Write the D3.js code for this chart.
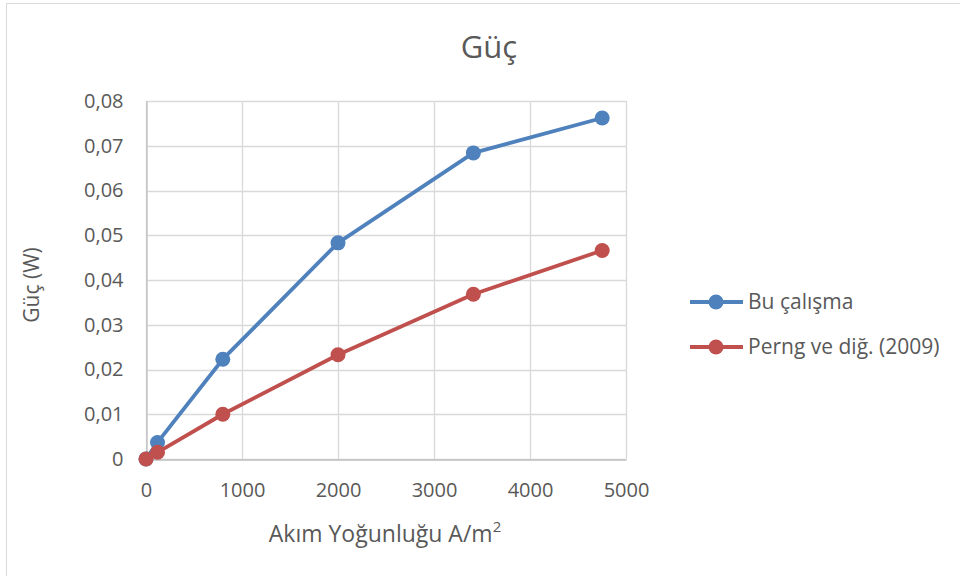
<!DOCTYPE html>
<html>
<head>
<meta charset="utf-8">
<script src="https://cdn.jsdelivr.net/npm/d3@7"></script>
<style>
  html, body { margin: 0; padding: 0; background: #fff; }
  svg { display: block; }
  text { font-family: "Open Sans", "Noto Sans", sans-serif; fill: #595959; }
</style>
</head>
<body>
<script>
// Current density (A/m²) and power (W) for the two data sets
const currentDensity = [0, 120, 800, 2000, 3410, 4752];
const powerThisWork = [0, 0.0037, 0.0223, 0.0483, 0.0684, 0.0762];
const powerPerng = [0, 0.0015, 0.0100, 0.0233, 0.0368, 0.0466];
const seriesNames = ["Bu çalışma", "Perng ve diğ. (2009)"];
const seriesColors = ["#4f81bd", "#c0504d"];
const xTicks = [0, 1000, 2000, 3000, 4000, 5000];
const yTicks = [0, 0.01, 0.02, 0.03, 0.04, 0.05, 0.06, 0.07, 0.08];

const W = 960, H = 576;
const svg = d3.select("body").append("svg").attr("width", W).attr("height", H);

// Chart frame
svg.append("rect").attr("x", 6.5).attr("y", 3.5).attr("width", 1000).attr("height", 700)
  .attr("fill", "none").attr("stroke", "#d9d9d9").attr("stroke-width", 1);

const plot = { left: 146, right: 626, top: 101, bottom: 459 };
const x = d3.scaleLinear().domain([0, 5000]).range([plot.left, plot.right]);
const y = d3.scaleLinear().domain([0, 0.08]).range([plot.bottom, plot.top]);

// Gridlines
const grid = svg.append("g");
grid.selectAll("line.h").data(yTicks).join("line")
  .attr("x1", plot.left).attr("x2", plot.right)
  .attr("y1", d => Math.round(y(d)) + 0.5).attr("y2", d => Math.round(y(d)) + 0.5)
  .attr("stroke", "#d9d9d9").attr("stroke-width", 1.3);
grid.selectAll("line.v").data(xTicks).join("line")
  .attr("y1", plot.top).attr("y2", plot.bottom)
  .attr("x1", d => Math.round(x(d)) + 0.5).attr("x2", d => Math.round(x(d)) + 0.5)
  .attr("stroke", "#d9d9d9").attr("stroke-width", 1.3);

// Axes
const fmt = d => d === 0 ? "0" : d.toFixed(2).replace(".", ",");
const yAxis = svg.append("g").attr("transform", `translate(${plot.left + 0.5},0)`)
  .call(d3.axisLeft(y).tickValues(yTicks).tickFormat(fmt).tickSize(0).tickPadding(23));
yAxis.select(".domain").attr("stroke", "#bfbfbf").attr("stroke-width", 1.3);
yAxis.selectAll("text").style("font-size", "20px").attr("fill", "#595959");

const xAxis = svg.append("g").attr("transform", `translate(0,${plot.bottom + 0.5})`)
  .call(d3.axisBottom(x).tickValues(xTicks).tickFormat(d3.format("d")).tickSize(0).tickPadding(23));
xAxis.select(".domain").attr("stroke", "#bfbfbf").attr("stroke-width", 1.3);
xAxis.selectAll("text").style("font-size", "20px").attr("fill", "#595959");

// Series
const series = [powerThisWork, powerPerng];
const line = d3.line().x((d, i) => x(currentDensity[i])).y(d => y(d));
series.forEach((vals, s) => {
  const g = svg.append("g");
  g.append("path").datum(vals).attr("d", line)
    .attr("fill", "none").attr("stroke", seriesColors[s]).attr("stroke-width", 3.8)
    .attr("stroke-linejoin", "round");
  g.selectAll("circle").data(vals).join("circle")
    .attr("cx", (d, i) => x(currentDensity[i])).attr("cy", d => y(d)).attr("r", 7.5)
    .attr("fill", seriesColors[s]);
});

// Titles
svg.append("text").attr("x", 489).attr("y", 58).attr("text-anchor", "middle")
  .style("font-size", "31px").text("Güç");
svg.append("text").attr("transform", "translate(39,285) rotate(-90)").attr("text-anchor", "middle")
  .style("font-size", "21px").text("Güç (W)");
const xt = svg.append("text").attr("x", 385).attr("y", 542).attr("text-anchor", "middle")
  .style("font-size", "23px");
xt.append("tspan").text("Akım Yoğunluğu A/m");
xt.append("tspan").attr("dy", -10).style("font-size", "15px").text("2");

// Legend
const legend = svg.append("g");
seriesNames.forEach((name, s) => {
  const ly = 302 + s * 45;
  legend.append("line").attr("x1", 690).attr("x2", 743).attr("y1", ly).attr("y2", ly)
    .attr("stroke", seriesColors[s]).attr("stroke-width", 3.8);
  legend.append("circle").attr("cx", 716).attr("cy", ly).attr("r", 7.5).attr("fill", seriesColors[s]);
  legend.append("text").attr("x", 748).attr("y", ly + 7).style("font-size", "21px").text(name);
});
</script>
</body>
</html>
